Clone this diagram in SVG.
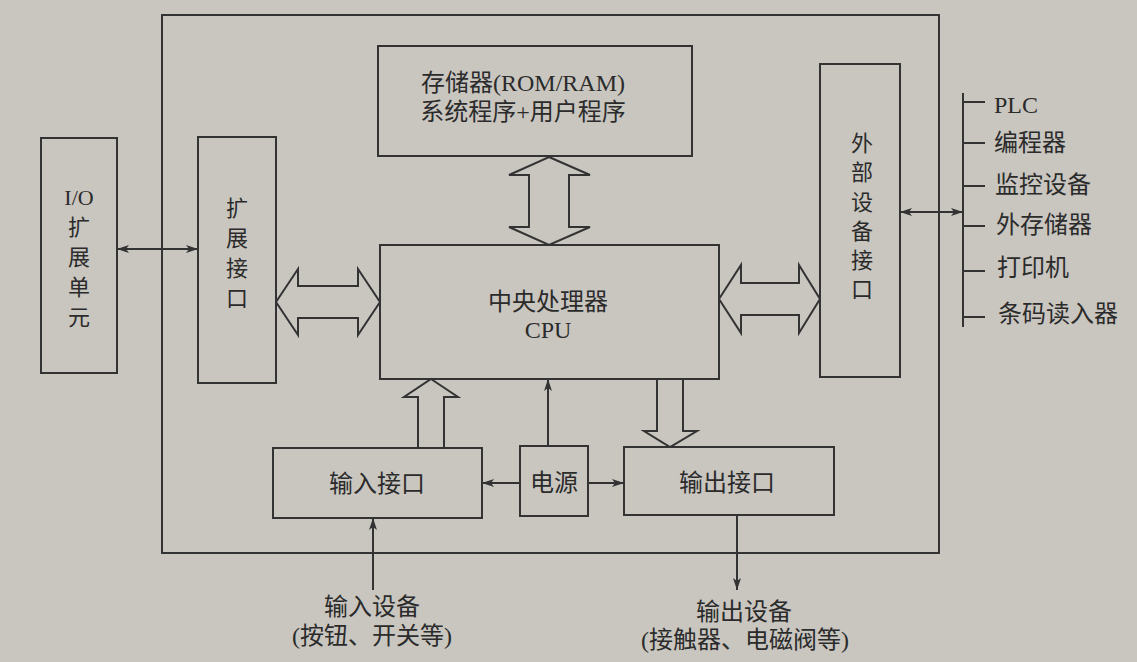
<svg xmlns="http://www.w3.org/2000/svg" width="1137" height="662" viewBox="0 0 1137 662">
<style>
.bx{fill:none;stroke:#333;stroke-width:2}
.ln{fill:none;stroke:#333;stroke-width:2}
.ba{fill:#c9c6c0;stroke:#333;stroke-width:2;stroke-linejoin:miter}
text{font-family:"Liberation Serif","Noto Sans CJK SC",serif;font-size:24px;fill:#2b2b2b;text-anchor:middle;dominant-baseline:central}
.v{font-size:22px}
.l{text-anchor:start}
</style>
<defs>
<marker id="ah" viewBox="0 0 12 8" refX="12" refY="4" markerWidth="12" markerHeight="8" markerUnits="userSpaceOnUse" orient="auto-start-reverse">
<path d="M0,0 L12,4 L0,8 L3,4 z" fill="#333"/>
</marker>
</defs>
<rect width="1137" height="662" fill="#c9c6c0"/>

<g id="outer"><rect class="bx" x="162" y="15" width="777" height="538"/></g>

<g id="memory">
<rect class="bx" x="378" y="46" width="314" height="110"/>
<text x="523" y="83">存储器(ROM/RAM)</text>
<text x="523" y="112">系统程序+用户程序</text>
</g>

<g id="cpu">
<rect class="bx" x="380" y="245" width="339" height="134"/>
<text x="548" y="302">中央处理器</text>
<text x="548" y="330">CPU</text>
</g>

<g id="io-unit">
<rect class="bx" x="41" y="138" width="76" height="235"/>
<text class="v" x="79" y="197">I/O</text>
<text class="v" x="79" y="227">扩</text>
<text class="v" x="79" y="257">展</text>
<text class="v" x="79" y="287">单</text>
<text class="v" x="79" y="317">元</text>
</g>

<g id="ext-port">
<rect class="bx" x="198" y="137" width="78" height="246"/>
<text class="v" x="237" y="208">扩</text>
<text class="v" x="237" y="238">展</text>
<text class="v" x="237" y="268">接</text>
<text class="v" x="237" y="298">口</text>
</g>

<g id="peripheral-port">
<rect class="bx" x="820" y="64" width="80" height="313"/>
<text class="v" x="862" y="143">外</text>
<text class="v" x="862" y="172">部</text>
<text class="v" x="862" y="202">设</text>
<text class="v" x="862" y="231">备</text>
<text class="v" x="862" y="260">接</text>
<text class="v" x="862" y="289">口</text>
</g>

<g id="input-port">
<rect class="bx" x="273" y="448" width="209" height="70"/>
<text x="377" y="484">输入接口</text>
</g>

<g id="power">
<rect class="bx" x="520" y="446" width="68" height="70"/>
<text x="554" y="483">电源</text>
</g>

<g id="output-port">
<rect class="bx" x="624" y="447" width="210" height="68"/>
<text x="727" y="483">输出接口</text>
</g>

<g id="peripherals">
<text class="l" x="994" y="105">PLC</text>
<text class="l" x="994" y="143">编程器</text>
<text class="l" x="995" y="185">监控设备</text>
<text class="l" x="996" y="225">外存储器</text>
<text class="l" x="997" y="268">打印机</text>
<text class="l" x="998" y="314">条码读入器</text>
</g>

<g id="input-device">
<text x="372" y="607">输入设备</text>
<text x="372" y="636">(按钮、开关等)</text>
</g>

<g id="output-device">
<text x="744" y="612">输出设备</text>
<text x="745" y="640">(接触器、电磁阀等)</text>
</g>

<g id="connectors">
<polygon class="ba" points="549,157 590,175 569,175 569,227 590,227 549,245 509,227 529,227 529,175 509,175"/>
<polygon class="ba" points="276,302 298,269 298,286 358,286 358,269 380,302 358,335 358,318 298,318 298,335"/>
<polygon class="ba" points="719,299 741,265 741,283 799,283 799,265 820,299 799,333 799,315 741,315 741,333"/>
<polygon class="ba" points="431,379 458,397 444,397 444,448 418,448 418,397 404,397"/>
<polygon class="ba" points="657,379 683,379 683,431 697,431 670,447 644,431 657,431"/>
<line class="ln" x1="117" y1="249" x2="198" y2="249" marker-start="url(#ah)" marker-end="url(#ah)"/>
<line class="ln" x1="900" y1="212" x2="963" y2="212" marker-start="url(#ah)" marker-end="url(#ah)"/>
<line class="ln" x1="963" y1="93" x2="963" y2="327"/>
<path class="ln" d="M963,102H985M963,143H985M963,186H985M963,226H985M963,271H985M963,317H985"/>
<line class="ln" x1="548" y1="446" x2="548" y2="379" marker-end="url(#ah)"/>
<line class="ln" x1="520" y1="483" x2="482" y2="483" marker-end="url(#ah)"/>
<line class="ln" x1="588" y1="483" x2="624" y2="483" marker-end="url(#ah)"/>
<line class="ln" x1="737" y1="515" x2="737" y2="590" marker-end="url(#ah)"/>
<line class="ln" x1="373" y1="590" x2="373" y2="518" marker-end="url(#ah)"/>
</g>
</svg>
